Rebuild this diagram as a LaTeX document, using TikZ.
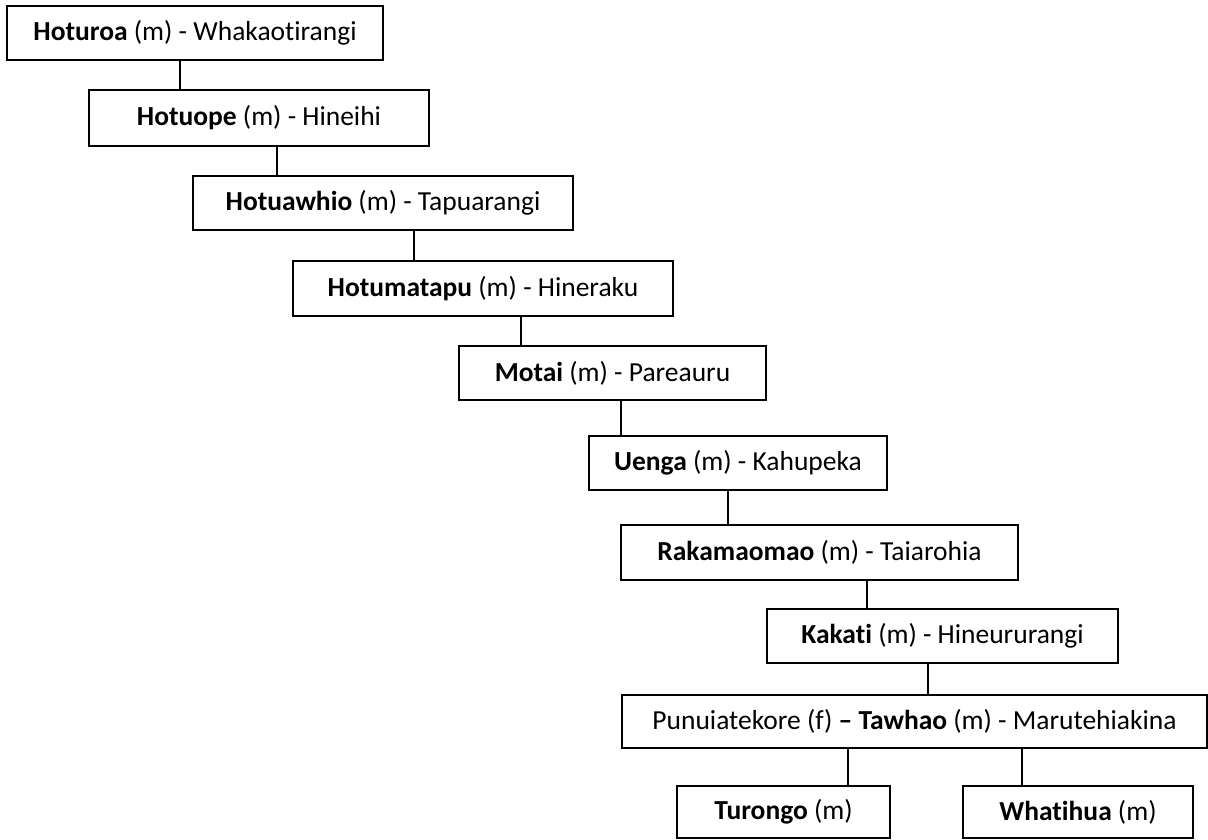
\documentclass[tikz,border=0pt]{standalone}
\usepackage{fontspec}
\setmainfont[Ligatures=NoCommon]{Carlito}
\tikzset{
    gen/.style={draw, line width=1.2pt, anchor=north west, inner sep=0pt, outer sep=0pt,
        font=\fontsize{27.5}{32}\selectfont},
    link/.style={line width=1.1pt}
}
\begin{document}
\begin{tikzpicture}[x=1pt,y=-1pt]
    \useasboundingbox (0,0) rectangle (1208,840);

    \node[gen, minimum width=376pt, minimum height=54pt] (hoturoa) at (7,6) {\textbf{Hoturoa} (m) - Whakaotirangi};
    \node[gen, minimum width=340pt, minimum height=56pt] (hotuope) at (89,90) {\textbf{Hotuope} (m) - Hineihi};
    \node[gen, minimum width=380pt, minimum height=54pt] (hotuawhio) at (193,176) {\textbf{Hotuawhio} (m) - Tapuarangi};
    \node[gen, minimum width=380pt, minimum height=55pt] (hotumatapu) at (293,261) {\textbf{Hotumatapu} (m) - Hineraku};
    \node[gen, minimum width=307pt, minimum height=54pt] (motai) at (459,346) {\textbf{Motai} (m) - Pareauru};
    \node[gen, minimum width=298pt, minimum height=54pt] (uenga) at (589,436) {\textbf{Uenga} (m) - Kahupeka};
    \node[gen, minimum width=397pt, minimum height=55pt] (rakamaomao) at (621,525) {\textbf{Rakamaomao} (m) - Taiarohia};
    \node[gen, minimum width=351pt, minimum height=54pt] (kakati) at (767,609) {\textbf{Kakati} (m) - Hineururangi};
    \node[gen, minimum width=585pt, minimum height=53pt] (tawhao) at (622,695) {Punuiatekore (f) \textbf{-- Tawhao} (m) - Marutehiakina};
    \node[gen, minimum width=213pt, minimum height=52pt] (turongo) at (677,786) {\textbf{Turongo} (m)};
    \node[gen, minimum width=230pt, minimum height=52pt] (whatihua) at (963,786) {\textbf{Whatihua} (m)};

    % descent lines
    \draw[link] (hoturoa.south -| 180,0) -- (hotuope.north -| 180,0);
    \draw[link] (hotuope.south -| 277,0) -- (hotuawhio.north -| 277,0);
    \draw[link] (hotuawhio.south -| 414,0) -- (hotumatapu.north -| 414,0);
    \draw[link] (hotumatapu.south -| 521,0) -- (motai.north -| 521,0);
    \draw[link] (motai.south -| 621,0) -- (uenga.north -| 621,0);
    \draw[link] (uenga.south -| 728,0) -- (rakamaomao.north -| 728,0);
    \draw[link] (rakamaomao.south -| 867,0) -- (kakati.north -| 867,0);
    \draw[link] (kakati.south -| 928,0) -- (tawhao.north -| 928,0);
    \draw[link] (tawhao.south -| 848,0) -- (turongo.north -| 848,0);
    \draw[link] (tawhao.south -| 1022,0) -- (whatihua.north -| 1022,0);
\end{tikzpicture}
\end{document}
